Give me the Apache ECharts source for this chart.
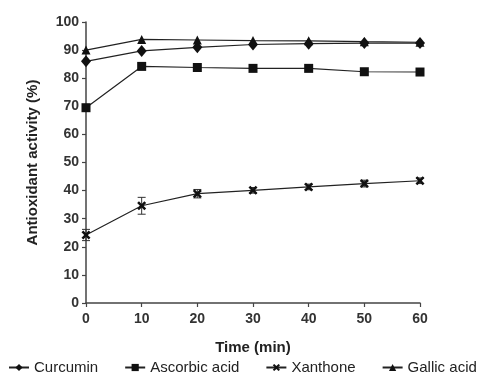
<!DOCTYPE html>
<html><head><meta charset="utf-8">
<script src="https://cdn.jsdelivr.net/npm/echarts@6/dist/echarts.min.js"></script>
<style>html,body{margin:0;padding:0;background:#fff}#c{width:487px;height:379px}</style>
</head><body><div id="c"></div>
<script>
var times = [0, 10, 20, 30, 40, 50, 60];
var curcumin = [86, 89.7, 91, 92, 92.3, 92.5, 92.5];
var ascorbic = [69.5, 84.2, 83.8, 83.5, 83.5, 82.3, 82.2];
var xanthone = [24.2, 34.6, 38.9, 40.1, 41.3, 42.5, 43.5];
var xanthoneErr = [2, 3, 1.5, 1, 1, 1.2, 1];
var gallic = [90, 93.8, 93.6, 93.4, 93.3, 93.0, 92.8];
var yTicks = [0, 10, 20, 30, 40, 50, 60, 70, 80, 90, 100];

function pairs(v){ return times.map(function(t,i){ return [t, v[i]]; }); }
var xPath = 'path://M2,0L5,3L8,0L10,2L7,5L10,8L8,10L5,7L2,10L0,8L3,5L0,2Z';
var font = 'Liberation Sans, Arial, sans-serif';
function lineSeries(name, data, symbol, size){
  return {name:name, type:'line', data:pairs(data), symbol:symbol, symbolSize:size,
    lineStyle:{color:'#222', width:1.2}, itemStyle:{color:'#111'}, z:3};
}
var chart = echarts.init(document.getElementById('c'));
chart.setOption({
  animation:false,
  grid:{left:86, right:67, top:22, bottom:76},
  textStyle:{fontFamily:font},
  legend:{top:360, left:8, width:479, padding:0, itemGap:26, itemWidth:20, itemHeight:9,
    textStyle:{fontSize:15, color:'#222', fontFamily:font},
    data:['Curcumin','Ascorbic acid','Xanthone','Gallic acid']},
  xAxis:{type:'value', min:0, max:60, interval:10, name:'Time (min)', nameLocation:'middle', nameGap:37,
    nameTextStyle:{fontSize:15, fontWeight:'bold', color:'#222'},
    axisLine:{lineStyle:{color:'#444', width:1.5}}, axisTick:{length:4, lineStyle:{color:'#444', width:1.2}},
    axisLabel:{fontSize:14, fontWeight:'bold', color:'#333', margin:9}, splitLine:{show:false}},
  yAxis:{type:'value', min:0, max:100, interval:10, name:'Antioxidant activity (%)', nameLocation:'middle', nameGap:46,
    nameTextStyle:{fontSize:15, fontWeight:'bold', color:'#222'},
    axisLine:{show:true, lineStyle:{color:'#444', width:1.5}}, axisTick:{show:true, length:4, lineStyle:{color:'#444', width:1.2}},
    axisLabel:{fontSize:14, fontWeight:'bold', color:'#333', margin:7,
      formatter:function(v){ return yTicks.indexOf(v)>=0 ? String(v) : ''; }}, splitLine:{show:false}},
  series:[
    lineSeries('Curcumin', curcumin, 'diamond', [10,12]),
    lineSeries('Ascorbic acid', ascorbic, 'rect', 9),
    lineSeries('Xanthone', xanthone, xPath, 9),
    lineSeries('Gallic acid', gallic, 'triangle', 9),
    {type:'custom', name:'err', silent:true, z:2,
      data: times.map(function(t,i){ return [t, xanthone[i]-xanthoneErr[i], xanthone[i]+xanthoneErr[i]]; }),
      renderItem:function(params, api){
        var lo = api.coord([api.value(0), api.value(1)]);
        var hi = api.coord([api.value(0), api.value(2)]);
        var w = 4;
        var st = {stroke:'#333', lineWidth:1};
        return {type:'group', children:[
          {type:'line', shape:{x1:lo[0], y1:lo[1], x2:hi[0], y2:hi[1]}, style:st},
          {type:'line', shape:{x1:lo[0]-w, y1:lo[1], x2:lo[0]+w, y2:lo[1]}, style:st},
          {type:'line', shape:{x1:hi[0]-w, y1:hi[1], x2:hi[0]+w, y2:hi[1]}, style:st}
        ]};
      }}
  ]
});
</script></body></html>
